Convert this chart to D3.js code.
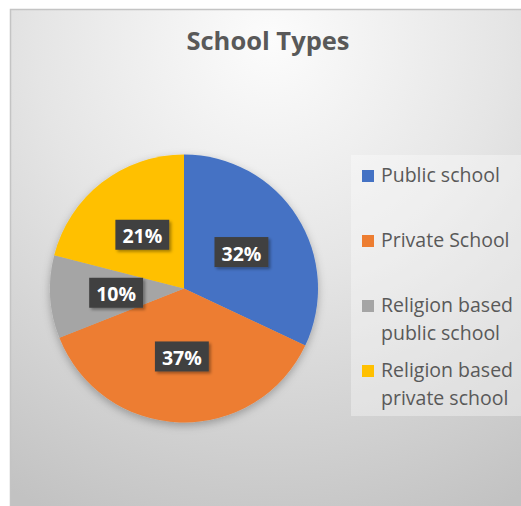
<!DOCTYPE html>
<html>
<head>
<meta charset="utf-8">
<script src="https://cdn.jsdelivr.net/npm/d3@7"></script>
<style>
  html, body { margin: 0; padding: 0; background: #ffffff; }
  svg { display: block; }
</style>
</head>
<body>
<svg id="chart" width="521" height="506"></svg>
<script>
// School types share (percent)
const categories = ["Public school", "Private School", "Religion based public school", "Religion based private school"];
const values = [32, 37, 10, 21];
const colors = ["#4472C4", "#ED7D31", "#A5A5A5", "#FFC000"];
const title = "School Types";

const W = 521, H = 506;
const svg = d3.select("#chart");
const defs = svg.append("defs");

// chart area background: soft radial gradient, light near the title
const bg = defs.append("radialGradient")
  .attr("id", "bgGrad")
  .attr("gradientUnits", "userSpaceOnUse")
  .attr("cx", 270).attr("cy", 40).attr("r", 520);
bg.append("stop").attr("offset", "0").attr("stop-color", "#fcfcfc");
bg.append("stop").attr("offset", "0.45").attr("stop-color", "#e5e5e5");
bg.append("stop").attr("offset", "1").attr("stop-color", "#c2c2c2");

const shadow = defs.append("filter").attr("id", "pieShadow")
  .attr("x", "-20%").attr("y", "-20%").attr("width", "140%").attr("height", "150%");
shadow.append("feDropShadow").attr("dx", 0).attr("dy", 3).attr("stdDeviation", 4)
  .attr("flood-color", "#000").attr("flood-opacity", 0.28);

const boxShadow = defs.append("filter").attr("id", "boxShadow")
  .attr("x", "-30%").attr("y", "-30%").attr("width", "170%").attr("height", "180%");
boxShadow.append("feDropShadow").attr("dx", 2).attr("dy", 2).attr("stdDeviation", 1.5)
  .attr("flood-color", "#000").attr("flood-opacity", 0.35);

// frame
svg.append("rect")
  .attr("x", 10.5).attr("y", 9.5)
  .attr("width", W).attr("height", H)
  .attr("fill", "url(#bgGrad)")
  .attr("stroke", "#c4c4c4").attr("stroke-width", 1.5);

// title
svg.append("text")
  .attr("x", 268).attr("y", 50)
  .attr("text-anchor", "middle")
  .attr("font-family", "'Open Sans', 'Noto Sans', sans-serif")
  .attr("font-weight", "bold")
  .attr("font-size", 25.5)
  .attr("fill", "#595959")
  .text(title);

// pie
const cx = 184, cy = 288.5, R = 134, labelR = 68;
const pie = d3.pie().sort(null).value(d => d.value);
const arc = d3.arc().innerRadius(0).outerRadius(R);
const labelArc = d3.arc().innerRadius(labelR).outerRadius(labelR);
const data = categories.map((c, i) => ({ name: c, value: values[i], color: colors[i] }));
const arcs = pie(data);
const total = d3.sum(values);

const g = svg.append("g").attr("transform", `translate(${cx},${cy})`);
g.append("g").attr("filter", "url(#pieShadow)")
  .selectAll("path").data(arcs).join("path")
  .attr("d", arc)
  .attr("fill", d => d.data.color);

// data labels in dark boxes
const fmt = d3.format(".0%");
const lab = g.selectAll("g.lab").data(arcs).join("g")
  .attr("class", "lab")
  .attr("transform", d => `translate(${labelArc.centroid(d)})`);
lab.each(function (d) {
  const sel = d3.select(this);
  const t = sel.append("text")
    .attr("text-anchor", "middle")
    .attr("dy", "0.36em")
    .attr("y", 1.5)
    .attr("font-family", "'Open Sans', 'Noto Sans', sans-serif")
    .attr("font-weight", "bold")
    .attr("font-size", 19.5)
    .attr("fill", "#ffffff")
    .text(fmt(d.data.value / total));
  const w = t.node().getComputedTextLength() + 14;
  sel.insert("rect", "text")
    .attr("x", -w / 2).attr("y", -15)
    .attr("width", w).attr("height", 30)
    .attr("fill", "#404040")
    .attr("filter", "url(#boxShadow)");
});

// legend
const legend = svg.append("g");
legend.append("rect")
  .attr("x", 351).attr("y", 155)
  .attr("width", W - 351).attr("height", 261)
  .attr("fill", "#ffffff").attr("fill-opacity", 0.35);

const legendY = d3.scalePoint().domain(categories).range([175, 370]);
const lineH = 28, maxW = 140;
const fontL = "'Open Sans', 'Noto Sans', sans-serif";

categories.forEach((c, i) => {
  const y0 = legendY(c);
  const item = legend.append("g");
  item.append("rect")
    .attr("x", 362).attr("y", y0 - 5)
    .attr("width", 12).attr("height", 12)
    .attr("fill", colors[i]);
  const text = item.append("text")
    .attr("font-family", fontL)
    .attr("font-size", 19.5)
    .attr("fill", "#595959");
  // word wrap
  const words = c.split(" ");
  let line = [], lineNo = 0;
  let tspan = text.append("tspan").attr("x", 381).attr("y", y0).attr("dy", "0.36em");
  words.forEach(wd => {
    line.push(wd);
    tspan.text(line.join(" "));
    if (tspan.node().getComputedTextLength() > maxW && line.length > 1) {
      line.pop();
      tspan.text(line.join(" "));
      line = [wd];
      lineNo++;
      tspan = text.append("tspan").attr("x", 381).attr("y", y0 + lineNo * lineH).attr("dy", "0.36em").text(wd);
    }
  });
});
</script>
</body>
</html>
